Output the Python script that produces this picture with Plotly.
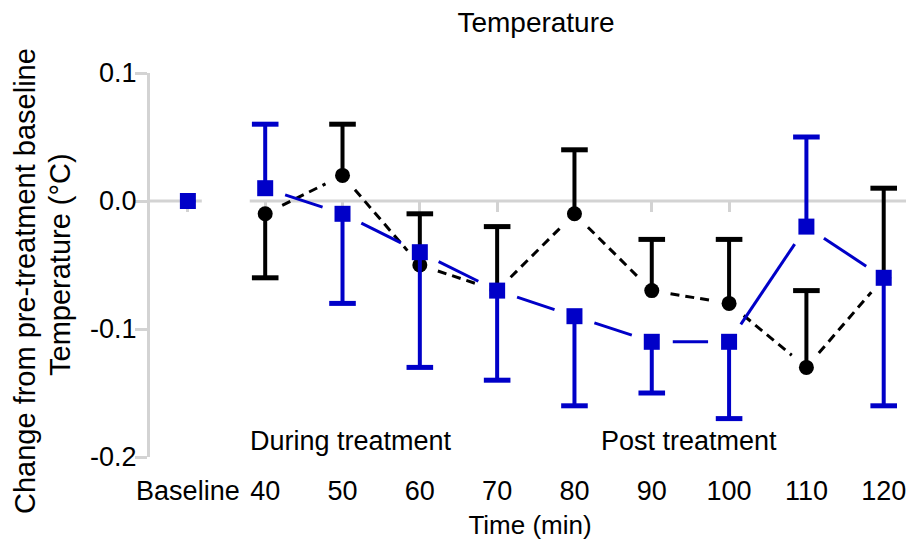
import math
import plotly.graph_objects as go

# ---- data ----
x_pos = [30, 40, 50, 60, 70, 80, 90, 100, 110, 120]
x_labels = ["Baseline", "40", "50", "60", "70", "80", "90", "100", "110", "120"]

black_mean = [0.0, -0.01, 0.02, -0.05, -0.07, -0.01, -0.07, -0.08, -0.13, -0.06]
black_err_up = [0, 0, 0.04, 0.04, 0.05, 0.05, 0.04, 0.05, 0.06, 0.07]
black_err_dn = [0, 0.05, 0, 0, 0, 0, 0, 0, 0, 0]

blue_mean = [0.0, 0.01, -0.01, -0.04, -0.07, -0.09, -0.11, -0.11, -0.02, -0.06]
blue_err_up = [0, 0.05, 0, 0, 0, 0, 0, 0, 0.07, 0]
blue_err_dn = [0, 0, 0.07, 0.09, 0.07, 0.07, 0.04, 0.06, 0, 0.10]

y_ticks = [-0.2, -0.1, 0.0, 0.1]
y_ticktext = ["-0.2", "-0.1", "0.0", "0.1"]

# ---- layout constants ----
OFF = 8                      # page body margin of the browser
W, H = 914 - OFF, 540 - OFF
M_L, M_R, M_T, M_B = 142, 4, 65, 83
X_RANGE = [25.1, 123.4]
Y_RANGE = [-0.2, 0.1]
AXIS_BREAK = [31.8, 38.0]

BLUE = "#0000C8"
GRAY = "#D3D3D3"
FONT = "Liberation Sans, Arial, sans-serif"
FS = 27
FS_TITLE = 28
FS_XTITLE = 26
FS_Y = 29

plot_w = W - M_L - M_R
plot_h = H - M_T - M_B
sx = plot_w / (X_RANGE[1] - X_RANGE[0])
sy = plot_h / (Y_RANGE[1] - Y_RANGE[0])


def px_to_paper(px, py):
    return (px - OFF - M_L) / plot_w, 1 - (py - OFF - M_T) / plot_h


def trimmed_segments(xs, ys, gap_px):
    """Connect consecutive points (excluding baseline) with segments
    shortened by gap_px at each end, so lines stop short of markers."""
    ox, oy = [], []
    for i in range(1, len(xs) - 1):
        x1, y1, x2, y2 = xs[i], ys[i], xs[i + 1], ys[i + 1]
        L = math.hypot((x2 - x1) * sx, (y2 - y1) * sy)
        f = min(gap_px / L, 0.45)
        ox += [x1 + f * (x2 - x1), x2 - f * (x2 - x1), None]
        oy += [y1 + f * (y2 - y1), y2 - f * (y2 - y1), None]
    return ox, oy


def one_sided_bars(xs, means, up, dn):
    stem_x, stem_y, cap_x, cap_y = [], [], [], []
    for x, m, u, d in zip(xs, means, up, dn):
        for e in (u, -d):
            if e != 0:
                stem_x += [x, x, None]
                stem_y += [m, m + e, None]
                cap_x.append(x)
                cap_y.append(m + e)
    return stem_x, stem_y, cap_x, cap_y


fig = go.Figure()

bx, by = trimmed_segments(x_pos, black_mean, 19)
fig.add_trace(go.Scatter(x=bx, y=by, mode="lines",
                         line=dict(color="black", width=3, dash="9px,6px"),
                         hoverinfo="skip", showlegend=False))
ux, uy = trimmed_segments(x_pos, blue_mean, 21)
fig.add_trace(go.Scatter(x=ux, y=uy, mode="lines",
                         line=dict(color=BLUE, width=3),
                         hoverinfo="skip", showlegend=False))

for means, up, dn, color, sym, size in (
        (black_mean, black_err_up, black_err_dn, "black", "circle", 15),
        (blue_mean, blue_err_up, blue_err_dn, BLUE, "square", 16)):
    stx, sty, cx, cy = one_sided_bars(x_pos, means, up, dn)
    fig.add_trace(go.Scatter(x=stx, y=sty, mode="lines",
                             line=dict(color=color, width=4),
                             hoverinfo="skip", showlegend=False))
    fig.add_trace(go.Scatter(x=cx, y=cy, mode="markers",
                             marker=dict(symbol="line-ew", size=19,
                                         line=dict(color=color, width=5)),
                             hoverinfo="skip", showlegend=False))
    fig.add_trace(go.Scatter(x=x_pos, y=means, mode="markers",
                             marker=dict(symbol=sym, size=size, color=color),
                             showlegend=False))

# invisible trace to activate the zero-line tick axis
fig.add_trace(go.Scatter(x=[x_pos[0]], y=[0], xaxis="x2", mode="markers",
                         marker=dict(opacity=0), hoverinfo="skip", showlegend=False))

# zero axis line with break
fig.add_shape(type="line", xref="x", yref="y", x0=X_RANGE[0], x1=AXIS_BREAK[0],
              y0=0, y1=0, line=dict(color=GRAY, width=3), layer="below")
fig.add_shape(type="line", xref="x", yref="y", x0=AXIS_BREAK[1], x1=X_RANGE[1],
              y0=0, y1=0, line=dict(color=GRAY, width=3), layer="below")

zero_pos = (0 - Y_RANGE[0]) / (Y_RANGE[1] - Y_RANGE[0])

for txt, cxp in (("During treatment", 351), ("Post treatment", 689)):
    ax, ay = px_to_paper(cxp, 441)
    fig.add_annotation(text=txt, x=ax, y=ay, xref="paper", yref="paper",
                       xanchor="center", yanchor="middle",
                       showarrow=False, font=dict(size=FS, color="black", family=FONT))

# y-axis title as two lines
for txt, cxp, cyp in (("Change from pre-treatment baseline", 25, 281),
                      ("Temperature (°C)", 60, 265)):
    ax, ay = px_to_paper(cxp, cyp)
    fig.add_annotation(text=txt, textangle=-90, x=ax, y=ay, xref="paper", yref="paper",
                       xanchor="center", yanchor="middle",
                       showarrow=False, font=dict(size=FS_Y, color="black", family=FONT))

tx, _ = px_to_paper(536, 0)
fig.update_layout(
    width=W, height=H,
    margin=dict(l=M_L, r=M_R, t=M_T, b=M_B),
    paper_bgcolor="white", plot_bgcolor="white",
    font=dict(family=FONT, size=FS, color="black"),
    title=dict(text="Temperature", x=tx, xref="paper",
               y=1 - (22 - OFF) / H, yref="container", xanchor="center", yanchor="middle",
               font=dict(size=FS_TITLE)),
    xaxis=dict(range=X_RANGE, tickvals=x_pos, ticktext=x_labels, automargin=False,
               showline=False, showgrid=False, zeroline=False,
               ticks="outside", ticklen=10, tickcolor="rgba(0,0,0,0)",
               tickfont=dict(size=FS),
               title=dict(text="Time (min)", standoff=13, font=dict(size=FS_XTITLE))),
    xaxis2=dict(range=X_RANGE, overlaying="x", anchor="free", position=zero_pos,
                side="bottom", tickvals=x_pos, showticklabels=False, automargin=False,
                showline=False, showgrid=False, zeroline=False, layer="below traces",
                ticks="outside", ticklen=10, tickwidth=3, tickcolor=GRAY),
    yaxis=dict(range=Y_RANGE, tickvals=y_ticks, ticktext=y_ticktext, automargin=False,
               showline=True, linewidth=3, linecolor=GRAY,
               ticks="outside", ticklen=12, tickwidth=3, tickcolor=GRAY,
               ticklabelstandoff=-7, tickfont=dict(size=FS),
               showgrid=False, zeroline=False),
)

fig.write_html("out.html")
